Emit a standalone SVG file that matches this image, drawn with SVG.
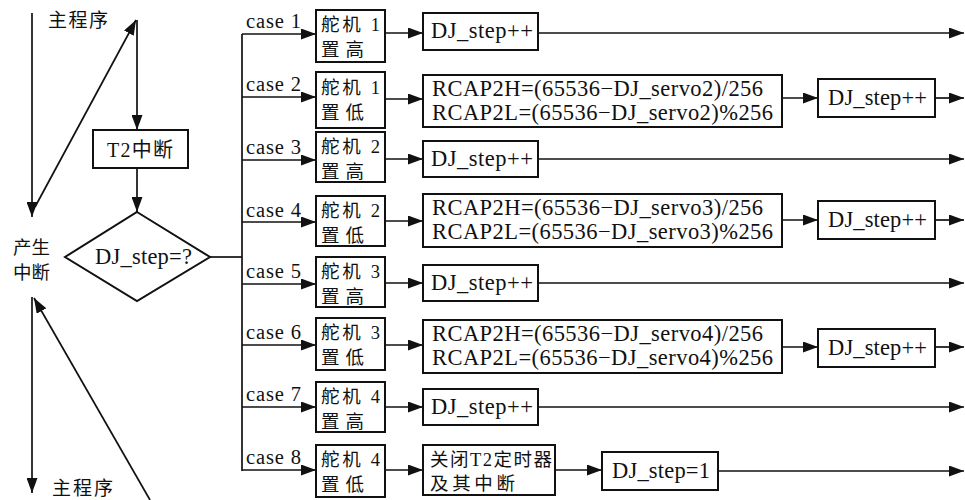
<svg xmlns="http://www.w3.org/2000/svg" width="965" height="500" viewBox="0 0 965 500">
<style>
.lat { font-family: "Liberation Serif", "Times New Roman", serif; font-size: 22.5px; fill: #111; }
.cs { font-family: "Liberation Serif", "Times New Roman", serif; font-size: 20.5px; fill: #111; }
.cjk { font-family: "Liberation Serif", "Noto Sans CJK SC", sans-serif; font-size: 18.5px; fill: #111; }
.box { fill: #fff; stroke: #111; stroke-width: 2; }
.ln { fill: none; stroke: #111; stroke-width: 1.7; }
.arr { fill: none; stroke: #111; stroke-width: 1.7; marker-end: url(#ah); }
</style>
<defs>
<marker id="ah" markerWidth="15" markerHeight="11" refX="15" refY="5.5" orient="auto" markerUnits="userSpaceOnUse">
<path d="M0,0 L15,5.5 L0,11 z" fill="#111"/>
</marker>
</defs>
<rect width="965" height="500" fill="#fff"/>

<g id="connectors">
<line class="arr" x1="32" y1="13" x2="32" y2="217"/>
<line class="arr" x1="35" y1="207" x2="136" y2="20"/>
<line class="arr" x1="137" y1="20" x2="137" y2="130"/>
<line class="arr" x1="137" y1="168" x2="137" y2="212"/>
<line class="arr" x1="32" y1="297" x2="32" y2="493"/>
<line class="arr" x1="150" y1="500" x2="34" y2="298"/>
<polyline class="ln" points="210,257 242,257"/>
<line class="ln" x1="242" y1="34" x2="242" y2="471"/>

<line class="arr" x1="242" y1="34" x2="316" y2="34"/>
<line class="arr" x1="242" y1="97" x2="316" y2="97"/>
<line class="arr" x1="242" y1="160" x2="316" y2="160"/>
<line class="arr" x1="242" y1="222" x2="316" y2="222"/>
<line class="arr" x1="242" y1="284" x2="316" y2="284"/>
<line class="arr" x1="242" y1="345" x2="316" y2="345"/>
<line class="arr" x1="242" y1="407" x2="316" y2="407"/>
<line class="arr" x1="242" y1="470" x2="316" y2="470"/>

<line class="arr" x1="385" y1="33" x2="423" y2="33"/>
<line class="arr" x1="385" y1="99" x2="423" y2="99"/>
<line class="arr" x1="385" y1="159" x2="423" y2="159"/>
<line class="arr" x1="385" y1="221" x2="423" y2="221"/>
<line class="arr" x1="385" y1="283" x2="423" y2="283"/>
<line class="arr" x1="385" y1="345" x2="423" y2="345"/>
<line class="arr" x1="385" y1="407" x2="423" y2="407"/>
<line class="arr" x1="385" y1="470" x2="423" y2="470"/>

<line class="arr" x1="538" y1="33" x2="964" y2="33"/>
<line class="arr" x1="538" y1="159" x2="964" y2="159"/>
<line class="arr" x1="538" y1="283" x2="964" y2="283"/>
<line class="arr" x1="538" y1="407" x2="964" y2="407"/>

<line class="arr" x1="782" y1="98" x2="818" y2="98"/>
<line class="arr" x1="935" y1="98" x2="964" y2="98"/>
<line class="arr" x1="782" y1="220" x2="818" y2="220"/>
<line class="arr" x1="935" y1="220" x2="964" y2="220"/>
<line class="arr" x1="782" y1="347" x2="818" y2="347"/>
<line class="arr" x1="935" y1="347" x2="964" y2="347"/>

<line class="arr" x1="555" y1="470" x2="602" y2="470"/>
<line class="arr" x1="718" y1="471" x2="964" y2="471"/>
</g>

<g id="labels">
<text class="cjk" x="48" y="27" textLength="60" lengthAdjust="spacing" style="font-size:19px">主程序</text>
<text class="cjk" x="52" y="495" textLength="61" lengthAdjust="spacing" style="font-size:19px">主程序</text>
<text class="cjk" x="13" y="254" textLength="37" lengthAdjust="spacing">产生</text>
<text class="cjk" x="13" y="279" textLength="37" lengthAdjust="spacing">中断</text>
<text class="cs" x="246" y="28" textLength="55" lengthAdjust="spacing">case 1</text>
<text class="cs" x="246" y="91" textLength="55" lengthAdjust="spacing">case 2</text>
<text class="cs" x="246" y="154" textLength="55" lengthAdjust="spacing">case 3</text>
<text class="cs" x="246" y="217" textLength="55" lengthAdjust="spacing">case 4</text>
<text class="cs" x="246" y="278" textLength="55" lengthAdjust="spacing">case 5</text>
<text class="cs" x="246" y="339" textLength="55" lengthAdjust="spacing">case 6</text>
<text class="cs" x="246" y="401" textLength="55" lengthAdjust="spacing">case 7</text>
<text class="cs" x="246" y="464" textLength="55" lengthAdjust="spacing">case 8</text>
</g>

<g id="t2">
<rect class="box" x="93" y="130" width="95" height="38"/>
<text class="cjk" x="107" y="157" textLength="66" lengthAdjust="spacing" style="font-size:20px">T2中断</text>
</g>

<g id="decision">
<polygon class="box" points="137,212 210,257 137,301 65,257"/>
<text class="lat" x="95" y="264" textLength="97" lengthAdjust="spacing">DJ_step=?</text>
</g>

<g id="servo1h">
<rect class="box" x="316" y="10" width="69" height="52"/>
<text class="cjk" x="321" y="31" textLength="59" lengthAdjust="spacing">舵机 1</text>
<text class="cjk" x="321" y="56" textLength="43" lengthAdjust="spacing">置高</text>
</g>
<g id="servo1l">
<rect class="box" x="316" y="72" width="69" height="56"/>
<text class="cjk" x="321" y="94" textLength="59" lengthAdjust="spacing">舵机 1</text>
<text class="cjk" x="321" y="119" textLength="43" lengthAdjust="spacing">置低</text>
</g>
<g id="servo2h">
<rect class="box" x="316" y="132" width="69" height="50"/>
<text class="cjk" x="321" y="153" textLength="59" lengthAdjust="spacing">舵机 2</text>
<text class="cjk" x="321" y="178" textLength="43" lengthAdjust="spacing">置高</text>
</g>
<g id="servo2l">
<rect class="box" x="316" y="196" width="69" height="50"/>
<text class="cjk" x="321" y="217" textLength="59" lengthAdjust="spacing">舵机 2</text>
<text class="cjk" x="321" y="242" textLength="43" lengthAdjust="spacing">置低</text>
</g>
<g id="servo3h">
<rect class="box" x="316" y="257" width="69" height="50"/>
<text class="cjk" x="321" y="278" textLength="59" lengthAdjust="spacing">舵机 3</text>
<text class="cjk" x="321" y="303" textLength="43" lengthAdjust="spacing">置高</text>
</g>
<g id="servo3l">
<rect class="box" x="316" y="318" width="69" height="52"/>
<text class="cjk" x="321" y="339" textLength="59" lengthAdjust="spacing">舵机 3</text>
<text class="cjk" x="321" y="364" textLength="43" lengthAdjust="spacing">置低</text>
</g>
<g id="servo4h">
<rect class="box" x="316" y="382" width="69" height="50"/>
<text class="cjk" x="321" y="403" textLength="59" lengthAdjust="spacing">舵机 4</text>
<text class="cjk" x="321" y="428" textLength="43" lengthAdjust="spacing">置高</text>
</g>
<g id="servo4l">
<rect class="box" x="316" y="445" width="69" height="52"/>
<text class="cjk" x="321" y="466" textLength="59" lengthAdjust="spacing">舵机 4</text>
<text class="cjk" x="321" y="491" textLength="43" lengthAdjust="spacing">置低</text>
</g>

<g id="step1">
<rect class="box" x="423" y="13" width="115" height="37"/>
<text class="lat" x="431" y="38" textLength="102" lengthAdjust="spacing">DJ_step++</text>
</g>
<g id="step3">
<rect class="box" x="423" y="141" width="115" height="36"/>
<text class="lat" x="431" y="166" textLength="102" lengthAdjust="spacing">DJ_step++</text>
</g>
<g id="step5">
<rect class="box" x="423" y="265" width="115" height="36"/>
<text class="lat" x="431" y="290" textLength="102" lengthAdjust="spacing">DJ_step++</text>
</g>
<g id="step7">
<rect class="box" x="423" y="389" width="115" height="36"/>
<text class="lat" x="431" y="414" textLength="102" lengthAdjust="spacing">DJ_step++</text>
</g>

<g id="rcap2">
<rect class="box" x="423" y="75" width="359" height="52"/>
<text class="lat" x="432" y="96" textLength="331" lengthAdjust="spacing">RCAP2H=(65536−DJ_servo2)/256</text>
<text class="lat" x="432" y="120" textLength="341" lengthAdjust="spacing">RCAP2L=(65536−DJ_servo2)%256</text>
</g>
<g id="rcap3">
<rect class="box" x="423" y="194" width="359" height="53"/>
<text class="lat" x="432" y="215" textLength="331" lengthAdjust="spacing">RCAP2H=(65536−DJ_servo3)/256</text>
<text class="lat" x="432" y="239" textLength="341" lengthAdjust="spacing">RCAP2L=(65536−DJ_servo3)%256</text>
</g>
<g id="rcap4">
<rect class="box" x="423" y="320" width="359" height="53"/>
<text class="lat" x="432" y="341" textLength="331" lengthAdjust="spacing">RCAP2H=(65536−DJ_servo4)/256</text>
<text class="lat" x="432" y="365" textLength="341" lengthAdjust="spacing">RCAP2L=(65536−DJ_servo4)%256</text>
</g>

<g id="step2">
<rect class="box" x="818" y="79" width="117" height="38"/>
<text class="lat" x="828" y="105" textLength="99" lengthAdjust="spacing">DJ_step++</text>
</g>
<g id="step4">
<rect class="box" x="818" y="201" width="117" height="38"/>
<text class="lat" x="828" y="227" textLength="99" lengthAdjust="spacing">DJ_step++</text>
</g>
<g id="step6">
<rect class="box" x="818" y="329" width="117" height="38"/>
<text class="lat" x="828" y="355" textLength="99" lengthAdjust="spacing">DJ_step++</text>
</g>

<g id="close">
<rect class="box" x="423" y="445" width="132" height="50"/>
<text class="cjk" x="430" y="466" textLength="122" lengthAdjust="spacing">关闭T2定时器</text>
<text class="cjk" x="430" y="490" textLength="85" lengthAdjust="spacing">及其中断</text>
</g>
<g id="reset">
<rect class="box" x="602" y="452" width="116" height="38"/>
<text class="lat" x="612" y="478" textLength="98" lengthAdjust="spacing">DJ_step=1</text>
</g>
</svg>
